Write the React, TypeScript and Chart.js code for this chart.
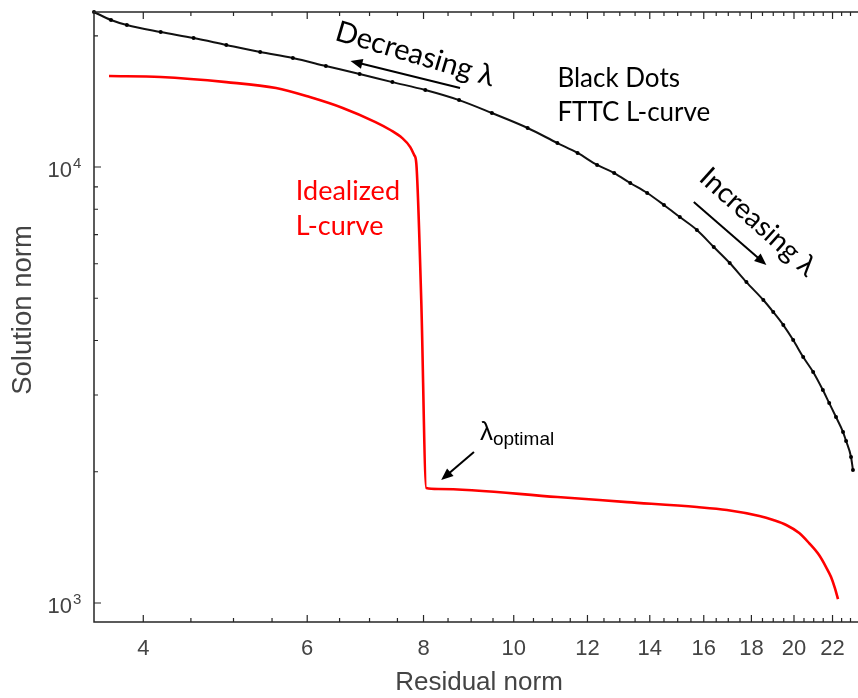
import React, { useEffect, useRef } from 'react';
import { Chart, registerables } from 'chart.js';
Chart.register(...registerables);

// ---- data ----
const ftccResidual = [3.541, 3.693, 3.841, 4.176, 4.530, 4.912, 5.341, 5.791, 6.283, 6.830, 7.407, 8.035, 8.735, 9.474, 10.35, 11.14, 11.71, 12.29, 12.82, 13.34, 13.91, 14.50, 15.08, 15.73, 16.40, 17.06, 17.78, 18.54, 19.00, 19.48, 19.96, 20.46, 20.97, 21.48, 21.82, 22.19, 22.58, 22.75, 23.03, 23.14];
const ftccSolution = [22680, 21740, 21170, 20400, 19760, 19050, 18360, 17780, 17050, 16340, 15660, 15020, 14240, 13300, 12290, 11350, 10770, 10110, 9688, 9190, 8717, 8182, 7677, 7171, 6554, 6022, 5446, 4954, 4650, 4340, 4010, 3666, 3388, 3080, 2875, 2671, 2467, 2353, 2162, 2018];

const idealResidual = [3.675, 4.176, 4.912, 5.555, 6.038, 6.551, 7.104, 7.371, 7.591, 7.742, 7.818, 7.858, 7.955, 8.054, 8.297, 11.14, 13.24, 15.73, 16.94, 18.36, 19.00, 19.62, 20.26, 20.76, 21.28, 21.65, 21.92, 22.13, 22.30];
const idealSolution = [16170, 16090, 15660, 15180, 14470, 13660, 12680, 12160, 11650, 11110, 10650, 10210, 4955, 1835, 1826, 1750, 1704, 1660, 1634, 1583, 1550, 1510, 1447, 1372, 1288, 1209, 1147, 1082, 1021];

const xMajorTicks = [4, 6, 8, 10, 12, 14, 16, 18, 20, 22];
const xMinorTicks = [4.5, 5, 5.5, 6.5, 7, 7.5, 8.5, 9, 9.5, 10.5, 11, 11.5, 12.5, 13, 13.5, 14.5, 15, 15.5, 16.5, 17, 17.5, 18.5, 19, 19.5, 20.5, 21, 21.5, 22.5, 23];
const yMajorTicks = [1000, 10000];
const yMajorExponents = ['3', '4'];
const yMinorTicks = [2000, 3000, 4000, 5000, 6000, 7000, 8000, 9000, 20000];

const xRange = [3.541, 23.2];
const yRange = [904.5, 22677];

const xTitle = 'Residual norm';
const yTitle = 'Solution norm';

const AXIS_FONT = '"Liberation Sans", Arial, sans-serif';
const NOTE_FONT = 'Lato, "Open Sans", sans-serif';

function drawArrow(ctx: CanvasRenderingContext2D, x1: number, y1: number, x2: number, y2: number) {
  const head = 12;
  const w = 5;
  const a = Math.atan2(y2 - y1, x2 - x1);
  ctx.beginPath();
  ctx.moveTo(x1, y1);
  ctx.lineTo(x2 - Math.cos(a) * head * 0.8, y2 - Math.sin(a) * head * 0.8);
  ctx.stroke();
  ctx.beginPath();
  ctx.moveTo(x2, y2);
  ctx.lineTo(x2 - head * Math.cos(a) + w * Math.sin(a), y2 - head * Math.sin(a) - w * Math.cos(a));
  ctx.lineTo(x2 - head * Math.cos(a) - w * Math.sin(a), y2 - head * Math.sin(a) + w * Math.cos(a));
  ctx.closePath();
  ctx.fill();
}

export default function App() {
  const ref = useRef<HTMLCanvasElement>(null);

  useEffect(() => {
    const canvas = ref.current;
    if (!canvas) return;

    const framePlugin = {
      id: 'frameAndNotes',
      afterDatasetsDraw(chart: any) {
        const ctx: CanvasRenderingContext2D = chart.ctx;
        const ca = chart.chartArea;
        const xs = chart.scales.x;
        const ys = chart.scales.y;
        const X = (v: number) => xs.getPixelForValue(v);
        const Y = (v: number) => ys.getPixelForValue(v);
        ctx.save();

        // frame
        ctx.strokeStyle = '#262626';
        ctx.lineWidth = 1.5;
        ctx.beginPath();
        ctx.moveTo(ca.right + 5, ca.top);
        ctx.lineTo(ca.left, ca.top);
        ctx.lineTo(ca.left, ca.bottom);
        ctx.lineTo(ca.right + 5, ca.bottom);
        ctx.stroke();

        // ticks (inward)
        ctx.lineWidth = 1.2;
        ctx.beginPath();
        const xt = (v: number, len: number) => {
          const p = X(v);
          ctx.moveTo(p, ca.bottom);
          ctx.lineTo(p, ca.bottom - len);
          ctx.moveTo(p, ca.top);
          ctx.lineTo(p, ca.top + len);
        };
        xMajorTicks.forEach((v) => xt(v, 7));
        xMinorTicks.forEach((v) => xt(v, 4));
        const yt = (v: number, len: number) => {
          const p = Y(v);
          ctx.moveTo(ca.left, p);
          ctx.lineTo(ca.left + len, p);
        };
        yMajorTicks.forEach((v) => yt(v, 7));
        yMinorTicks.forEach((v) => yt(v, 4));
        ctx.stroke();

        // tick labels
        ctx.fillStyle = '#444444';
        ctx.font = `22px ${AXIS_FONT}`;
        ctx.textAlign = 'center';
        ctx.textBaseline = 'middle';
        xMajorTicks.forEach((v) => ctx.fillText(String(v), X(v), ca.bottom + 27));
        yMajorTicks.forEach((v, i) => {
          const p = Y(v);
          ctx.font = `22px ${AXIS_FONT}`;
          ctx.textAlign = 'right';
          ctx.textBaseline = 'alphabetic';
          ctx.fillText('10', ca.left - 22, p + 10);
          ctx.font = `15px ${AXIS_FONT}`;
          ctx.textAlign = 'left';
          ctx.fillText(yMajorExponents[i], ca.left - 21, p + 1);
        });

        // axis titles
        ctx.font = `26px ${AXIS_FONT}`;
        ctx.textAlign = 'center';
        ctx.textBaseline = 'middle';
        ctx.fillText(xTitle, (ca.left + ca.right) / 2 + 5, ca.bottom + 61);
        ctx.save();
        ctx.font = `27.5px ${AXIS_FONT}`;
        ctx.translate(23, (ca.top + ca.bottom) / 2 - 7);
        ctx.rotate(-Math.PI / 2);
        ctx.fillText(yTitle, 0, 0);
        ctx.restore();

        // annotations
        ctx.fillStyle = '#000';
        ctx.strokeStyle = '#000';
        ctx.lineWidth = 2;

        // Decreasing λ
        ctx.font = `29px ${NOTE_FONT}`;
        ctx.save();
        ctx.translate(X(7.838), Y(18160));
        ctx.rotate((16.5 * Math.PI) / 180);
        ctx.textAlign = 'center';
        ctx.textBaseline = 'middle';
        ctx.fillText('Decreasing λ', 0, 0);
        ctx.restore();
        drawArrow(ctx, X(8.756), Y(15180), X(6.678), Y(17510));

        // Increasing λ
        ctx.font = `28px ${NOTE_FONT}`;
        ctx.save();
        ctx.translate(X(18.3), Y(7477));
        ctx.rotate((42 * Math.PI) / 180);
        ctx.textAlign = 'center';
        ctx.textBaseline = 'middle';
        ctx.fillText('Increasing λ', 0, 0);
        ctx.restore();
        drawArrow(ctx, X(15.61), Y(8312), X(18.68), Y(5958));

        // Black Dots / FTTC L-curve
        ctx.font = `26px ${NOTE_FONT}`;
        ctx.textAlign = 'left';
        ctx.textBaseline = 'alphabetic';
        ctx.fillText('Black Dots', X(11.14), Y(15260));
        ctx.fillText('FTTC L-curve', X(11.14), Y(12750));

        // Idealized L-curve (red)
        ctx.font = `27px ${NOTE_FONT}`;
        ctx.fillStyle = '#ff0000';
        ctx.fillText('Idealized', X(5.834), Y(8400));
        ctx.fillText('L-curve', X(5.834), Y(6984));

        // λ optimal
        ctx.fillStyle = '#000';
        const lx = X(9.198);
        const ly = Y(2365);
        ctx.font = `26px ${AXIS_FONT}`;
        ctx.fillText('λ', lx, ly);
        const lw = ctx.measureText('λ').width;
        ctx.font = `19px ${AXIS_FONT}`;
        ctx.fillText('optimal', lx + lw, ly + 5);
        drawArrow(ctx, X(9.063), Y(2220), X(8.357), Y(1915));

        ctx.restore();
      },
    };

    const chart = new Chart(canvas, {
      type: 'scatter',
      data: {
        datasets: [
          {
            label: 'FTTC L-curve',
            data: ftccResidual.map((x, i) => ({ x, y: ftccSolution[i] })),
            showLine: true,
            borderColor: '#111111',
            borderWidth: 2,
            pointRadius: 2,
            pointBackgroundColor: '#000',
            pointBorderWidth: 0,
            cubicInterpolationMode: 'monotone',
            clip: 4,
          } as any,
          {
            label: 'Idealized L-curve',
            data: idealResidual.map((x, i) => ({ x, y: idealSolution[i] })),
            showLine: true,
            borderColor: '#ff0000',
            borderWidth: 2.6,
            pointRadius: 0,
            cubicInterpolationMode: 'monotone',
            clip: 4,
          } as any,
        ],
      },
      options: {
        responsive: false,
        animation: false,
        events: [],
        layout: { padding: { top: 12, left: 0, right: 0, bottom: 0 } },
        plugins: {
          legend: { display: false },
          tooltip: { enabled: false },
        },
        scales: {
          x: {
            type: 'logarithmic',
            min: xRange[0],
            max: xRange[1],
            ticks: { display: false },
            grid: { display: false },
            border: { display: false },
            afterFit: (s: any) => {
              s.height = 76;
            },
          },
          y: {
            type: 'logarithmic',
            min: yRange[0],
            max: yRange[1],
            ticks: { display: false },
            grid: { display: false },
            border: { display: false },
            afterFit: (s: any) => {
              s.width = 94;
            },
          },
        },
      } as any,
      plugins: [framePlugin],
    });

    return () => chart.destroy();
  }, []);

  return (
    <div style={{ position: 'fixed', left: 0, top: 0, width: 858, height: 698, background: '#fff', overflow: 'hidden' }}>
      <canvas ref={ref} width={858} height={698} style={{ display: 'block' }} />
    </div>
  );
}
